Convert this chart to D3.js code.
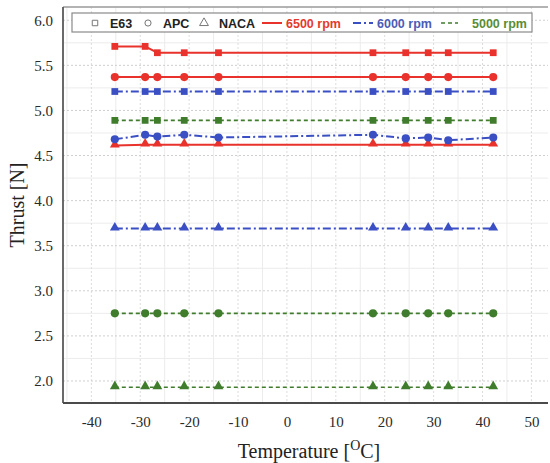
<!DOCTYPE html>
<html>
<head>
<meta charset="utf-8">
<script src="https://cdn.jsdelivr.net/npm/d3@7"></script>
<style>
  html, body { margin: 0; padding: 0; background: #fff; }
  svg { display: block; }
</style>
</head>
<body>
<svg id="chart" width="550" height="463"></svg>
<script>
// Measured temperatures (°C)
const temperatures = [-35.2, -29, -26.5, -21, -14, 17.6, 24.3, 28.9, 33, 42.2];

// Thrust [N] per propeller and rotational speed
const e63_6500  = [5.71, 5.71, 5.64, 5.64, 5.64, 5.64, 5.64, 5.64, 5.64, 5.64];
const apc_6500  = [5.37, 5.37, 5.37, 5.37, 5.37, 5.37, 5.37, 5.37, 5.37, 5.37];
const naca_6500 = [4.61, 4.62, 4.62, 4.62, 4.62, 4.62, 4.62, 4.62, 4.62, 4.62];
const e63_6000  = [5.21, 5.21, 5.21, 5.21, 5.21, 5.21, 5.21, 5.21, 5.21, 5.21];
const apc_6000  = [4.68, 4.73, 4.71, 4.73, 4.70, 4.73, 4.69, 4.70, 4.67, 4.70];
const naca_6000 = [3.69, 3.69, 3.69, 3.69, 3.69, 3.69, 3.69, 3.69, 3.69, 3.69];
const e63_5000  = [4.89, 4.89, 4.89, 4.89, 4.89, 4.89, 4.89, 4.89, 4.89, 4.89];
const apc_5000  = [2.75, 2.75, 2.75, 2.75, 2.75, 2.75, 2.75, 2.75, 2.75, 2.75];
const naca_5000 = [1.93, 1.93, 1.93, 1.93, 1.93, 1.93, 1.93, 1.93, 1.93, 1.93];

// Tick values
const xTicks = [-40, -30, -20, -10, 0, 10, 20, 30, 40, 50];
const yTicks = [2.0, 2.5, 3.0, 3.5, 4.0, 4.5, 5.0, 5.5, 6.0];

// Legend entries
const propellers = ["E63", "APC", "NACA"];
const speeds = ["6500 rpm", "6000 rpm", "5000 rpm"];

const speedStyle = {
  "6500 rpm": { color: "#e8322b", dash: null,        width: 2.0, text: "#e53a2c" },
  "6000 rpm": { color: "#3b4fc4", dash: "8,3,2,3",   width: 2.0, text: "#4b5cb6" },
  "5000 rpm": { color: "#3f7d2c", dash: "4,3",       width: 1.6, text: "#5b8c34" }
};
const markerOf = { "E63": d3.symbolSquare, "APC": d3.symbolCircle, "NACA": d3.symbolTriangle };
const markerSize = { "E63": 46, "APC": 52, "NACA": 42 };

const series = [
  { prop: "E63",  speed: "6500 rpm", values: e63_6500 },
  { prop: "APC",  speed: "6500 rpm", values: apc_6500 },
  { prop: "NACA", speed: "6500 rpm", values: naca_6500 },
  { prop: "E63",  speed: "6000 rpm", values: e63_6000 },
  { prop: "APC",  speed: "6000 rpm", values: apc_6000 },
  { prop: "NACA", speed: "6000 rpm", values: naca_6000 },
  { prop: "E63",  speed: "5000 rpm", values: e63_5000 },
  { prop: "APC",  speed: "5000 rpm", values: apc_5000 },
  { prop: "NACA", speed: "5000 rpm", values: naca_5000 }
];

const svg = d3.select("#chart");
const L = 63, R = 548, T = 7, B = 403;

const x = d3.scaleLinear().domain([-45.8, 53.4]).range([L, R]);
const y = d3.scaleLinear().domain([1.756, 6.147]).range([B, T]);

// Grid: minor solid, major dotted
const grid = svg.append("g");
const minorX = d3.range(-45, 54, 10);
const minorY = d3.range(2.25, 6.1, 0.5);
grid.selectAll(".mx").data(minorX).join("line")
  .attr("x1", d => x(d)).attr("x2", d => x(d)).attr("y1", T).attr("y2", B)
  .attr("stroke", "#ececec").attr("stroke-width", 1);
grid.selectAll(".my").data(minorY).join("line")
  .attr("x1", L).attr("x2", R).attr("y1", d => y(d)).attr("y2", d => y(d))
  .attr("stroke", "#ececec").attr("stroke-width", 1);
grid.selectAll(".gx").data(xTicks).join("line")
  .attr("x1", d => x(d)).attr("x2", d => x(d)).attr("y1", T).attr("y2", B)
  .attr("stroke", "#dcdcdc").attr("stroke-width", 1).attr("stroke-dasharray", "2,2");
grid.selectAll(".gy").data(yTicks).join("line")
  .attr("x1", L).attr("x2", R).attr("y1", d => y(d)).attr("y2", d => y(d))
  .attr("stroke", "#cfcfcf").attr("stroke-width", 1).attr("stroke-dasharray", "2,2");

// Frame
svg.append("line").attr("x1", L).attr("x2", R).attr("y1", T).attr("y2", T)
  .attr("stroke", "#9a9a9a").attr("stroke-width", 1.5);
svg.append("line").attr("x1", L).attr("x2", L).attr("y1", T).attr("y2", B)
  .attr("stroke", "#5a5a5a").attr("stroke-width", 1.8);
svg.append("line").attr("x1", L).attr("x2", R).attr("y1", B).attr("y2", B)
  .attr("stroke", "#4a4a4a").attr("stroke-width", 1.8);

// Axes (labels only); plain hyphen for negative numbers
const serif = "'Liberation Serif', 'Times New Roman', serif";
const xAxis = d3.axisBottom(x).tickValues(xTicks).tickSize(0).tickPadding(0).tickFormat(d => String(d));
const gx = svg.append("g").attr("transform", `translate(0,${B + 13})`).call(xAxis);
gx.select(".domain").remove();
gx.selectAll("text").attr("font-family", serif).attr("font-size", 15).attr("fill", "#2a2a2a");

const yAxis = d3.axisLeft(y).tickValues(yTicks).tickSize(0).tickPadding(0).tickFormat(d => d.toFixed(1));
const gy = svg.append("g").attr("transform", `translate(53,0)`).call(yAxis);
gy.select(".domain").remove();
gy.selectAll("text").attr("font-family", serif).attr("font-size", 15).attr("fill", "#2a2a2a");

// Axis titles
const xTitle = svg.append("text").attr("x", 309).attr("y", 458).attr("text-anchor", "middle")
  .attr("font-family", serif).attr("font-size", 20).attr("fill", "#222");
xTitle.append("tspan").text("Temperature [");
xTitle.append("tspan").attr("font-size", 14).attr("dy", -8).text("O");
xTitle.append("tspan").attr("dy", 8).text("C]");

svg.append("text").attr("transform", "translate(24,205) rotate(-90)").attr("text-anchor", "middle")
  .attr("font-family", serif).attr("font-size", 20).attr("fill", "#222")
  .text("Thrust [N]");

// Lines and markers
const line = d3.line().x((d, i) => x(temperatures[i])).y(d => y(d));
const plot = svg.append("g");
series.forEach(s => {
  const st = speedStyle[s.speed];
  plot.append("path").datum(s.values).attr("d", line)
    .attr("fill", "none").attr("stroke", st.color).attr("stroke-width", st.width)
    .attr("stroke-dasharray", st.dash);
  const sym = d3.symbol().type(markerOf[s.prop]).size(markerSize[s.prop]);
  plot.selectAll(null).data(s.values).join("path")
    .attr("d", sym)
    .attr("transform", (d, i) => `translate(${x(temperatures[i])},${y(d) + (s.prop === "NACA" ? -1 : 0)})`)
    .attr("fill", st.color);
});

// Legend
const lg = svg.append("g");
lg.append("rect").attr("x", 72).attr("y", 13).attr("width", 460).attr("height", 19)
  .attr("fill", "#fff").attr("stroke", "#8a8a8a").attr("stroke-width", 1.2);
const legendFont = "'Liberation Sans', Arial, sans-serif";
const ly = 23;
const propX = { "E63": 95, "APC": 148, "NACA": 204 };
propellers.forEach(p => {
  lg.append("path").attr("d", d3.symbol().type(markerOf[p]).size(p === "NACA" ? 34 : 30)())
    .attr("transform", `translate(${propX[p]},${ly})`)
    .attr("fill", "none").attr("stroke", "#777").attr("stroke-width", 1);
  lg.append("text").attr("x", propX[p] + 15).attr("y", ly + 4.5)
    .attr("font-family", legendFont).attr("font-weight", "bold").attr("font-size", 12.5)
    .attr("fill", "#222").text(p);
});
const speedX = { "6500 rpm": [262, 282, 286], "6000 rpm": [353, 373, 377], "5000 rpm": [441, 458, 472] };
speeds.forEach(sp => {
  const st = speedStyle[sp];
  const [a, b, t] = speedX[sp];
  lg.append("line").attr("x1", a).attr("x2", b).attr("y1", ly).attr("y2", ly)
    .attr("stroke", st.color).attr("stroke-width", st.width).attr("stroke-dasharray", st.dash);
  lg.append("text").attr("x", t).attr("y", ly + 4.5)
    .attr("font-family", legendFont).attr("font-weight", "bold").attr("font-size", 12.5)
    .attr("fill", st.text).text(sp);
});
</script>
</body>
</html>
